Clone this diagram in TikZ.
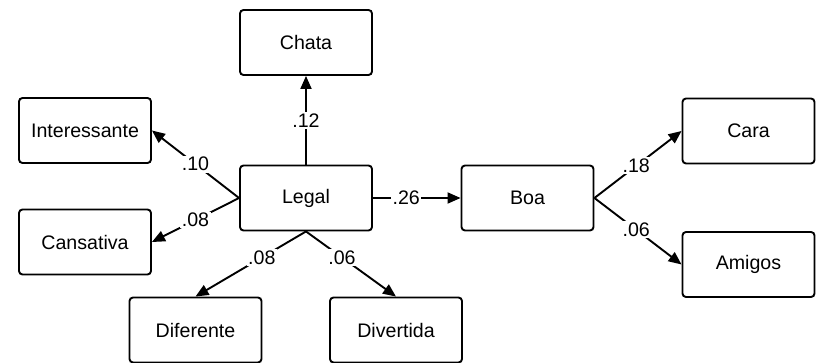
\documentclass[tikz,border=0pt]{standalone}
\usepackage{fontspec}
\setmainfont{Liberation Sans}
\usetikzlibrary{arrows.meta}
\begin{document}
\begin{tikzpicture}[x=1pt,y=-1pt,
  box/.style={draw, line width=1.9pt, rounded corners=3.5pt, minimum width=132pt, minimum height=65pt, inner sep=0pt, font=\fontsize{19.6}{22}\selectfont},
  conn/.style={line width=1.9pt, -{Triangle[length=13pt,width=11pt]}},
  lbl/.style={fill=white, inner sep=1.5pt, font=\fontsize{19.6}{22}\selectfont}]
\useasboundingbox (0,0) rectangle (816,363);
\node[box] (legal) at (306,198) {Legal};
\node[box] (chata) at (306,42.5) {Chata};
\node[box] (inter) at (85,130.5) {Interessante};
\node[box] (cans) at (85,242) {Cansativa};
\node[box] (dif) at (195.5,330) {Diferente};
\node[box] (div) at (396,330) {Divertida};
\node[box] (boa) at (527.5,198) {Boa};
\node[box] (cara) at (748.5,131) {Cara};
\node[box] (amig) at (748.5,264.5) {Amigos};
\draw[conn] (legal.north) -- node[lbl] {.12} (chata.south);
\draw[conn] (legal.west) -- node[lbl] {.10} (inter.east);
\draw[conn] (legal.west) -- node[lbl] {.08} (cans.east);
\draw[conn] (legal.south) -- node[lbl, pos=0.4] {.08} (dif.north);
\draw[conn] (legal.south) -- node[lbl, pos=0.4] {.06} (div.north);
\draw[conn] (legal.east) -- node[lbl, pos=0.38] {.26} (boa.west);
\draw[conn] (boa.east) -- node[lbl, pos=0.48] {.18} (cara.west);
\draw[conn] (boa.east) -- node[lbl, pos=0.48] {.06} (amig.west);
\end{tikzpicture}
\end{document}
